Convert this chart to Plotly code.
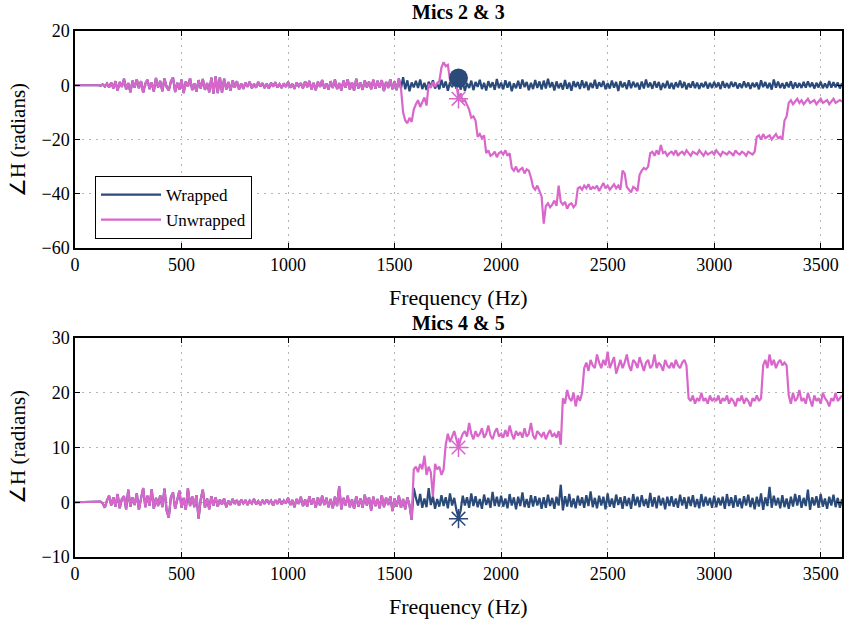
import plotly.graph_objects as go

# Frequency grid (Hz), one sample every 10 Hz from 0 to 3600
freq = list(range(0, 3601, 10))

# ---- Mics 2 & 3 ----
wrapped_23 = [
    0, 0, 0, 0, 0, 0, 0.1, 0, -0.1, 0, 0.1, 0, -0.2, 0.3, -0.5, 0.6, -0.8, 1.0, -1.2, 1.5,
    -2.0, 1.2, -0.6, 2.4, -1.5, 0.8, -2.6, 1.7, -0.9, 2.2, -1.1, 1.5, -2.8, 0.6, 2.0, -1.4, 1.1, -2.3, 2.7, -0.8,
    1.6, -2.2, 2.5, -0.7, -1.9, 1.3, 2.9, -2.5, 0.9, -1.6, 2.1, -2.9, 1.4, -0.5, 2.6, -1.8, 0.7, -2.4, 1.9, -1.2,
    2.3, -1.7, 0.8, -2.6, 2.8, -3.1, 3.3, -2.9, 3.0, -2.7, 2.4, -1.5, 1.2, -2.0, 1.8, -0.9, 1.5, -1.6, 0.7, -1.3,
    1.0, -0.6, 1.3, -1.1, 0.5, -0.9, 1.2, -0.4, 0.8, -1.0, 0.6, -1.2, 0.9, -0.5, 1.1, -0.8, 0.4, -1.0, 0.7, -0.6,
    1.2, -0.9, 0.5, -1.3, 1.0, -0.4, 0.8, -1.1, 1.4, -0.7, 1.6, -1.5, 0.9, -1.8, 1.3, -0.6, 1.9, -1.2, 0.7, -1.6,
    1.5, -1.0, 2.1, -1.4, 0.8, -1.9, 1.7, -0.9, 2.2, -1.6, 1.1, -2.0, 2.4, -1.2, 1.0, -1.7, 1.8, -0.8, 1.3, -1.5,
    2.0, -1.3, 1.6, -0.9, 1.9, -2.1, 1.2, -1.0, 2.2, -1.5, 1.4, -1.8, 2.5, -1.2, 3.0, -1.5, 1.8, -2.2, 1.0, -0.8,
    1.6, -1.0, 2.1, -1.4, 0.9, -1.7, 1.3, -0.6, 1.8, -1.2, 0.7, -1.5, 2.0, -0.9, 1.4, -2.0, 1.1, -0.7, 1.9, -1.3,
    2.2, -1.6, 1.3, -2.1, 0.8, -1.0, 1.7, -1.8, 1.2, -0.6, 2.0, -1.4, 0.9, -1.9, 1.5, -0.8, 1.1, -1.7, 2.3, -1.1,
    1.0, -1.5, 1.8, -0.9, 1.3, -2.2, 0.7, -1.1, 1.6, -1.3, 2.1, -0.7, 1.2, -1.8, 0.9, -1.4, 1.9, -1.0, 1.4, -1.6,
    1.7, -1.2, 2.4, -0.8, 1.1, -1.9, 1.4, -1.1, 0.8, -1.6, 1.9, -1.3, 1.0, -2.0, 1.5, -0.7, 1.2, -1.4, 1.8, -1.0,
    1.3, -1.8, 0.9, -1.0, 2.0, -1.3, 1.1, -0.6, 1.6, -1.5, 0.8, -1.2, 1.7, -0.9, 1.2, -2.1, 1.5, -0.8, 1.0, -1.4,
    1.8, -1.1, 1.3, -0.7, 0.9, -1.6, 1.4, -1.2, 2.1, -0.8, 1.0, -1.3, 1.5, -0.9, 1.2, -1.7, 0.8, -1.0, 1.6, -1.2,
    0.9, -1.4, 1.1, -0.8, 1.7, -1.0, 1.2, -1.5, 0.7, -0.9, 1.4, -1.1, 1.0, -1.3, 0.8, -0.7, 1.3, -1.2, 0.9, -1.0,
    1.2, -0.8, 1.0, -1.4, 1.5, -0.9, 0.8, -1.1, 1.3, -0.6, 1.1, -1.2, 0.7, -1.0, 1.4, -0.8, 1.0, -1.3, 0.9, -0.7,
    1.0, -1.5, 1.8, -0.7, 1.2, -1.1, 0.9, -1.6, 2.1, -0.9, 1.3, -1.0, 0.8, -1.2, 1.1, -0.8, 1.5, -1.3, 1.0, -0.9,
    0.8, -1.0, 1.2, -0.9, 1.4, -0.7, 1.0, -1.2, 0.9, -0.8, 1.3, -1.1, 0.7, -1.0, 1.5, -0.9, 1.1, -0.8, 1.0, -1.2,
    0.8,
]
unwrapped_23 = [
    0, 0, 0, 0, 0, 0, 0.1, 0, -0.1, 0, 0.1, 0, -0.2, 0.3, -0.5, 0.6, -0.8, 1.0, -1.2, 1.5,
    -2.0, 1.2, -0.6, 2.4, -1.5, 0.8, -2.6, 1.7, -0.9, 2.2, -1.1, 1.5, -2.8, 0.6, 2.0, -1.4, 1.1, -2.3, 2.7, -0.8,
    1.6, -2.2, 2.5, -0.7, -1.9, 1.3, 2.9, -2.5, 0.9, -1.6, 2.1, -2.9, 1.4, -0.5, 2.6, -1.8, 0.7, -2.4, 1.9, -1.2,
    2.3, -1.7, 0.8, -2.6, 2.8, -3.1, 3.3, -2.9, 3.0, -2.7, 2.4, -1.5, 1.2, -2.0, 1.8, -0.9, 1.5, -1.6, 0.7, -1.3,
    1.0, -0.6, 1.3, -1.1, 0.5, -0.9, 1.2, -0.4, 0.8, -1.0, 0.6, -1.2, 0.9, -0.5, 1.1, -0.8, 0.4, -1.0, 0.7, -0.6,
    1.2, -0.9, 0.5, -1.3, 1.0, -0.4, 0.8, -1.1, 1.4, -0.7, 1.6, -1.5, 0.9, -1.8, 1.3, -0.6, 1.9, -1.2, 0.7, -1.6,
    1.5, -1.0, 2.1, -1.4, 0.8, -1.9, 1.7, -0.9, 2.2, -1.6, 1.1, -2.0, 2.4, -1.2, 1.0, -1.7, 1.8, -0.8, 1.3, -1.5,
    2.0, -1.3, 1.6, -0.9, 1.9, -2.1, 1.2, -1.0, 2.2, -1.5, 1.4, -1.8, 2.5, -1.2, -10, -13, -14, -12, -13.5, -9,
    -7, -5.5, -8, -6, -4.5, -7.5, 0.5, -1.0, 1.2, -0.5, 0.8, 1.5, 6.5, 8.5, 7.0, 7.5, 2.0, 0.5, 1.5, 0.0,
    -4.5, -3.0, -6.0, -5.5, -7.0, -9.0, -12.0, -11.5, -13.0, -19.0, -18.0, -19.5, -18.5, -25.0, -24.0, -26.0, -25.5, -24.5, -26.5, -25.0,
    -24.5, -25.5, -24.0, -26.0, -25.0, -30.5, -31.5, -30.0, -32.0, -31.0, -30.5, -32.5, -31.0, -31.5, -34.0, -37.5, -38.5, -37.0, -39.0, -41.0,
    -51.0, -44.5, -43.5, -45.0, -44.0, -42.5, -44.5, -37.0, -43.0, -44.0, -43.0, -45.5, -44.0, -43.5, -45.0, -44.0, -38.0, -37.5, -38.5, -37.0,
    -38.0, -36.5, -38.5, -37.5, -38.0, -37.0, -39.0, -37.5, -36.0, -38.0, -37.0, -38.5, -37.5, -36.5, -38.0, -37.0, -38.5, -31.5, -32.5, -37.5,
    -38.5, -39.5, -37.5, -38.0, -39.0, -33.0, -31.5, -30.5, -31.0, -30.0, -25.0, -24.5, -26.0, -24.0, -25.5, -22.0, -25.0, -24.5, -26.0, -25.0,
    -24.5, -25.5, -24.0, -26.0, -25.0, -24.5, -25.5, -24.0, -25.0, -26.0, -24.5, -25.0, -25.5, -24.0, -25.0, -26.0, -24.5, -25.5, -25.0, -24.5,
    -25.5, -24.0, -25.0, -26.0, -24.5, -25.0, -25.5, -24.5, -25.0, -26.0, -24.0, -25.0, -25.5, -24.5, -25.0, -26.0, -24.5, -25.0, -25.5, -24.5,
    -19.0, -18.5, -20.0, -18.0, -19.5, -19.0, -18.5, -20.0, -19.0, -18.0, -19.5, -19.0, -20.0, -13.0, -11.5, -6.5, -5.5, -7.0, -6.0, -5.0,
    -6.5, -5.5, -7.0, -6.0, -5.0, -6.5, -6.0, -5.5, -7.0, -6.0, -5.0, -6.5, -6.0, -5.5, -7.0, -6.0, -5.0, -6.5, -6.0, -5.5,
    -6.0,
]

# ---- Mics 4 & 5 ----
wrapped_45 = [
    0, 0, 0, 0, 0, 0, 0, 0, 0, 0, 0, 0, 0.1, -0.2, -1.0, 0.3, 1.2, -0.6, 0.9, -0.8,
    1.5, -1.1, 0.6, 1.1, -1.3, 2.3, -0.8, 0.9, -0.5, 1.6, -1.4, 0.7, 2.6, -0.9, 1.2, -0.6, 2.4, -1.2, 0.8, -0.7,
    1.3, -0.9, 2.5, -1.5, -2.8, 0.9, 1.8, -1.2, 0.6, 2.1, -1.0, 0.8, -1.4, 2.6, -0.7, 1.1, -0.9, 1.3, -3.0, 0.5,
    2.3, -1.0, 0.7, -1.3, 1.1, -0.6, 0.9, -0.8, 0.5, -0.4, 0.7, -0.9, 0.3, -0.5, 0.6, -0.3, 0.4, -0.6, 0.5, -0.2,
    0.4, -0.5, 0.3, -0.2, 0.6, -0.4, 0.2, -0.5, 0.4, -0.3, 0.5, -0.2, 0.3, -0.6, 0.4, -0.3, 0.6, -0.4, 0.3, -0.2,
    0.8, -0.5, 0.4, -0.9, 0.6, -0.3, 1.0, -0.7, 0.5, -0.8, 1.1, -0.4, 0.7, -1.0, 0.9, -0.6, 1.2, -0.5, 0.8, -0.9,
    0.6, -1.1, 1.0, -0.7, 2.9, -1.3, 0.8, -0.6, 1.2, -0.9, 0.5, -1.2, 1.1, -0.8, 0.7, -1.0, 1.4, -0.6, 0.9, -1.5,
    1.0, -0.7, 0.6, -1.1, 1.3, -0.9, 0.8, -0.5, 1.1, -1.6, 0.7, -0.8, 1.2, -1.0, 0.6, -1.3, 0.9, -0.5, -3.2, 2.6,
    0.8, -0.6, 1.5, -1.0, 0.7, -0.9, 2.6, -0.5, 1.1, -1.2, 0.6, -0.8, 1.3, -0.7, 0.9, -1.1, 1.6, -0.6, 0.8, -1.4,
    -2.8, -1.5, 1.2, -0.6, 0.9, -1.0, 1.6, -0.7, 1.1, -0.9, 0.6, -1.2, 1.4, -0.5, 0.8, -1.0, 1.9, -0.7, 1.0, -0.8,
    1.2, -0.8, 0.7, -1.1, 1.5, -0.6, 0.9, -1.3, 1.0, -0.7, 1.8, -0.9, 0.6, -1.0, 1.3, -0.8, 1.1, -0.6, 0.8, -1.2,
    0.9, -1.0, 1.4, -0.7, 0.8, -1.2, 1.0, -0.6, 3.2, -1.5, 1.1, -0.8, 1.5, -0.9, 0.7, -1.1, 1.2, -0.6, 0.9, -1.0,
    1.3, -0.7, 2.0, -0.9, 0.8, -1.1, 1.2, -0.6, 1.0, -1.3, 1.6, -0.8, 0.7, -1.0, 1.4, -0.5, 0.9, -1.2, 1.1, -0.7,
    0.8, -1.2, 1.5, -0.6, 1.0, -0.9, 1.3, -0.7, 0.6, -1.0, 1.7, -0.8, 0.9, -1.1, 1.2, -0.6, 0.8, -1.3, 1.0, -0.7,
    1.1, -0.8, 0.7, -1.0, 1.4, -0.6, 0.9, -1.2, 1.0, -0.7, 1.3, -0.9, 0.6, -1.1, 1.5, -0.8, 1.0, -0.6, 0.8, -1.0,
    1.2, -0.9, 0.8, -0.6, 1.0, -1.2, 1.5, -0.7, 0.9, -1.0, 1.3, -0.8, 0.7, -1.1, 1.1, -0.6, 1.4, -0.9, 0.8, -1.3,
    1.0, -0.8, 1.6, -1.4, 0.9, -0.7, 2.8, -1.0, 1.2, -0.6, 0.8, -1.1, 1.3, -0.9, 0.7, -1.2, 1.0, -0.8, 1.5, -0.6,
    1.3, -1.0, 0.8, -0.7, 2.3, -1.4, 0.9, -0.6, 1.1, -1.0, 1.5, -0.8, 0.7, -1.2, 1.0, -0.6, 1.4, -0.9, 0.8, -1.0,
    0.6,
]
unwrapped_45 = [
    0, 0, 0, 0, 0, 0, 0, 0, 0, 0, 0, 0, 0.1, -0.2, -1.0, 0.3, 1.2, -0.6, 0.9, -0.8,
    1.5, -1.1, 0.6, 1.1, -1.3, 2.3, -0.8, 0.9, -0.5, 1.6, -1.4, 0.7, 2.6, -0.9, 1.2, -0.6, 2.4, -1.2, 0.8, -0.7,
    1.3, -0.9, 2.5, -1.5, -2.8, 0.9, 1.8, -1.2, 0.6, 2.1, -1.0, 0.8, -1.4, 2.6, -0.7, 1.1, -0.9, 1.3, -3.0, 0.5,
    2.3, -1.0, 0.7, -1.3, 1.1, -0.6, 0.9, -0.8, 0.5, -0.4, 0.7, -0.9, 0.3, -0.5, 0.6, -0.3, 0.4, -0.6, 0.5, -0.2,
    0.4, -0.5, 0.3, -0.2, 0.6, -0.4, 0.2, -0.5, 0.4, -0.3, 0.5, -0.2, 0.3, -0.6, 0.4, -0.3, 0.6, -0.4, 0.3, -0.2,
    0.8, -0.5, 0.4, -0.9, 0.6, -0.3, 1.0, -0.7, 0.5, -0.8, 1.1, -0.4, 0.7, -1.0, 0.9, -0.6, 1.2, -0.5, 0.8, -0.9,
    0.6, -1.1, 1.0, -0.7, 2.9, -1.3, 0.8, -0.6, 1.2, -0.9, 0.5, -1.2, 1.1, -0.8, 0.7, -1.0, 1.4, -0.6, 0.9, -1.5,
    1.0, -0.7, 0.6, -1.1, 1.3, -0.9, 0.8, -0.5, 1.1, -1.6, 0.7, -0.8, 1.2, -1.0, 0.6, -1.3, 0.9, -0.5, -3.2, 6.0,
    6.5, 5.5, 7.0, 6.0, 8.5, 5.0, 6.5, 5.5, 1.0, 7.0, 6.0, 6.5, 5.0, 6.0, 10.5, 12.5, 11.0, 12.0, 13.0, 11.5,
    10.0, 11.5, 12.5, 13.0, 12.0, 14.5, 12.5, 11.5, 13.0, 12.0, 12.5, 13.5, 11.8, 12.5, 14.0, 12.2, 11.5, 12.8, 13.5, 12.0,
    12.5, 11.8, 13.2, 12.0, 14.0, 12.5, 11.5, 13.0, 12.2, 12.8, 11.8, 13.5, 12.0, 12.5, 14.5, 12.2, 11.5, 13.0, 12.5, 12.0,
    12.8, 11.5, 12.5, 13.2, 12.0, 12.5, 11.8, 13.0, 10.5, 19.0, 18.0, 20.5, 19.0, 18.5, 20.0, 17.5, 19.5, 18.5, 20.0, 24.5,
    25.5, 24.0, 26.0, 25.0, 24.5, 27.0, 25.5, 24.5, 26.0, 25.0, 27.5, 24.5, 25.5, 26.5, 23.5, 25.0, 26.0, 24.5, 25.5, 27.0,
    25.0, 24.0, 26.0, 25.5, 24.5, 26.5, 25.0, 24.0, 25.5, 26.0, 24.5, 25.0, 27.0, 24.5, 25.5, 25.0, 24.0, 26.0, 25.0, 24.5,
    25.5, 24.5, 26.0, 25.0, 24.5, 25.5, 26.0, 25.0, 19.0, 18.5, 19.5, 18.0, 19.0, 18.5, 20.0, 18.5, 19.0, 18.0, 19.5, 18.5,
    19.0, 18.5, 19.5, 18.0, 19.0, 18.5, 19.5, 18.0, 19.0, 18.5, 17.5, 19.0, 18.5, 19.5, 18.0, 19.0, 18.5, 17.5, 19.0, 18.5,
    19.5, 18.5, 19.0, 25.0, 26.0, 24.5, 27.0, 25.0, 26.0, 24.5, 25.5, 26.0, 25.0, 25.5, 25.0, 19.5, 18.0, 20.0, 18.5, 19.0,
    20.5, 18.5, 19.0, 18.0, 20.0, 18.5, 17.5, 19.5, 18.5, 19.0, 18.0, 20.0, 19.0, 18.5, 17.5, 19.0, 18.5, 20.0, 18.5, 19.0,
    19.5,
]

for s in (wrapped_23, unwrapped_23, wrapped_45, unwrapped_45):
    assert len(s) == len(freq), len(s)

# Highlighted points at 1800 Hz
mark_freq = [1800]
mark_wrapped_23 = [2.7]
mark_unwrapped_23 = [-5]
mark_wrapped_45 = [-3]
mark_unwrapped_45 = [10]

series_names = ["Wrapped", "Unwrapped"]
x_ticks = [0, 500, 1000, 1500, 2000, 2500, 3000, 3500]
titles = ["Mics 2 & 3", "Mics 4 & 5"]
x_label = "Frequency (Hz)"
y_label = "∠H (radians)"

NAVY = "#2a4a7a"
PINK = "#d866cb"
FONT = "Liberation Serif"
LW = 2.2

fig = go.Figure()

fig.add_trace(go.Scatter(x=freq, y=wrapped_23, mode="lines", name=series_names[0],
                         line=dict(color=NAVY, width=LW), xaxis="x", yaxis="y"))
fig.add_trace(go.Scatter(x=freq, y=unwrapped_23, mode="lines", name=series_names[1],
                         line=dict(color=PINK, width=LW), xaxis="x", yaxis="y"))
fig.add_trace(go.Scatter(x=mark_freq, y=mark_wrapped_23, mode="markers", showlegend=False,
                         marker=dict(symbol="circle", size=19, color=NAVY), xaxis="x", yaxis="y"))
fig.add_trace(go.Scatter(x=mark_freq, y=mark_unwrapped_23, mode="markers", showlegend=False,
                         marker=dict(symbol="asterisk-open", size=16, color=PINK,
                                     line=dict(color=PINK, width=1.5)), xaxis="x", yaxis="y"))

fig.add_trace(go.Scatter(x=freq, y=wrapped_45, mode="lines", showlegend=False,
                         line=dict(color=NAVY, width=LW), xaxis="x2", yaxis="y2"))
fig.add_trace(go.Scatter(x=freq, y=unwrapped_45, mode="lines", showlegend=False,
                         line=dict(color=PINK, width=LW), xaxis="x2", yaxis="y2"))
fig.add_trace(go.Scatter(x=mark_freq, y=mark_unwrapped_45, mode="markers", showlegend=False,
                         marker=dict(symbol="asterisk-open", size=16, color=PINK,
                                     line=dict(color=PINK, width=1.5)), xaxis="x2", yaxis="y2"))
fig.add_trace(go.Scatter(x=mark_freq, y=mark_wrapped_45, mode="markers", showlegend=False,
                         marker=dict(symbol="asterisk-open", size=16, color=NAVY,
                                     line=dict(color=NAVY, width=1.5)), xaxis="x2", yaxis="y2"))

H = 623.0
L, R = 75, 3
PW = 845 - L - R

def py(px):
    return 1 - px / H

def px_x(px):
    return (px - L) / PW

axis_common = dict(
    showline=True, linecolor="black", linewidth=1.5, mirror="allticks",
    ticks="inside", ticklen=5, tickwidth=1, tickcolor="black",
    showgrid=True, gridcolor="#b4b4b4", gridwidth=1, griddash="2px,5px",
    zeroline=False, tickfont=dict(family=FONT, size=18, color="black"),
)

fig.update_layout(
    width=845, height=623,
    margin=dict(l=L, r=R, t=0, b=0, autoexpand=False),
    paper_bgcolor="white", plot_bgcolor="white",
    font=dict(family=FONT, color="black"),
    xaxis=dict(domain=[0, 1], anchor="y", range=[0, 3600], tickvals=x_ticks, **axis_common),
    yaxis=dict(domain=[py(248), py(31)], anchor="x", range=[-60, 20], dtick=20, **axis_common),
    xaxis2=dict(domain=[0, 1], anchor="y2", range=[0, 3600], tickvals=x_ticks, **axis_common),
    yaxis2=dict(domain=[py(557), py(338)], anchor="x2", range=[-10, 30], dtick=10, **axis_common),
    legend=dict(x=px_x(95), y=py(176), xanchor="left", yanchor="top",
                bordercolor="black", borderwidth=1, bgcolor="white",
                font=dict(family=FONT, size=17, color="black"),
                itemwidth=60, tracegroupgap=0),
    showlegend=True,
)

ann = [
    dict(text="<b>%s</b>" % titles[0], x=0.5, y=py(12), xref="paper", yref="paper",
         showarrow=False, font=dict(family=FONT, size=20), xanchor="center", yanchor="middle"),
    dict(text="<b>%s</b>" % titles[1], x=0.5, y=py(323), xref="paper", yref="paper",
         showarrow=False, font=dict(family=FONT, size=20), xanchor="center", yanchor="middle"),
    dict(text=x_label, x=0.5, y=py(297), xref="paper", yref="paper",
         showarrow=False, font=dict(family=FONT, size=22), xanchor="center", yanchor="middle"),
    dict(text=x_label, x=0.5, y=py(606), xref="paper", yref="paper",
         showarrow=False, font=dict(family=FONT, size=22), xanchor="center", yanchor="middle"),
    dict(text=y_label, x=px_x(18), y=py(140), xref="paper", yref="paper", textangle=-90,
         showarrow=False, font=dict(family=FONT, size=21), xanchor="center", yanchor="middle"),
    dict(text=y_label, x=px_x(18), y=py(447), xref="paper", yref="paper", textangle=-90,
         showarrow=False, font=dict(family=FONT, size=21), xanchor="center", yanchor="middle"),
]
fig.update_layout(annotations=ann)

fig.write_html("out.html", config={"displayModeBar": False},
               post_script="document.body.style.margin='0px';document.body.style.overflow='hidden';")
